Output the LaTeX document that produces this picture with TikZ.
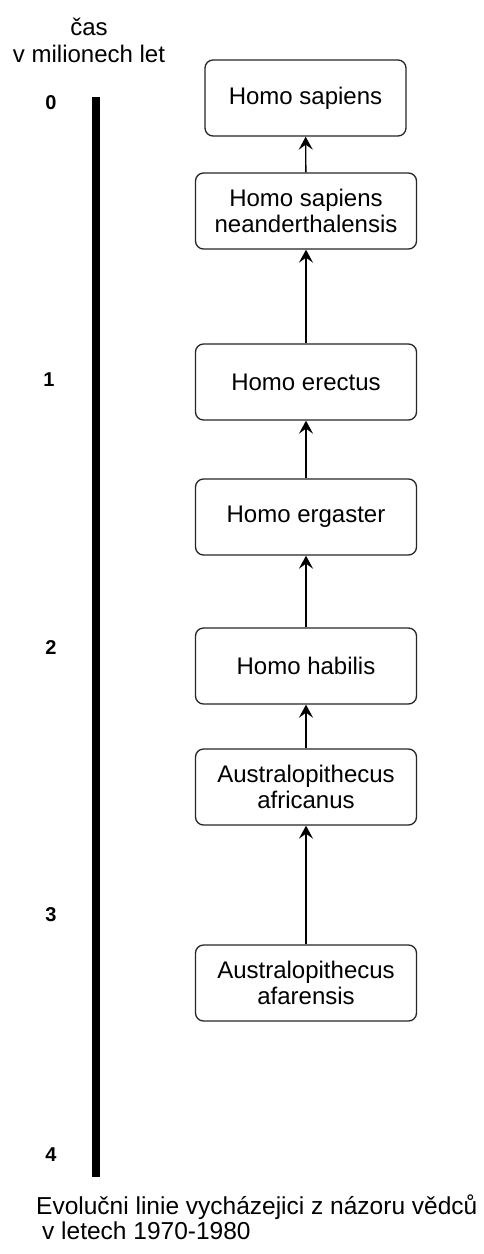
\documentclass[tikz,border=0pt]{standalone}
\usepackage{fontspec}
\setmainfont{Liberation Sans}
\usetikzlibrary{arrows.meta}

\begin{document}
\begin{tikzpicture}[x=1pt,y=-1pt,
  species/.style={draw=black!85, line width=1.3pt, rounded corners=8pt,
    minimum width=221pt, minimum height=76pt, inner sep=0pt,
    align=center, font=\fontsize{24}{26}\selectfont},
  descent/.style={draw=black, line width=1.4pt,
    -{Stealth[length=13pt,width=14pt,inset=5pt]}},
  tick/.style={font=\fontsize{20}{22}\selectfont\bfseries},
  caption/.style={font=\fontsize{24.5}{26}\selectfont, anchor=base west, inner sep=0pt}
]
\useasboundingbox (0,0) rectangle (483,1254);
\fill[white] (0,0) rectangle (483,1254);

% time axis
\node[align=center, font=\fontsize{24}{27}\selectfont] (axtitle) at (89,40) {čas\\v milionech let};
\coordinate (axtop) at (95.5,97);
\coordinate (axbot) at (95.5,1177);
\draw[line width=8pt] (axtop) -- (axbot);
\node[tick] (t0) at (51,103) {0};
\node[tick] (t1) at (49,380) {1};
\node[tick] (t2) at (51,648) {2};
\node[tick] (t3) at (51,915) {3};
\node[tick] (t4) at (51,1155) {4};

% species boxes
\node[species, minimum width=201pt] (sap) at (305.5,98) {Homo sapiens};
\node[species] (nea) at (306,211) {Homo sapiens\\neanderthalensis};
\node[species] (ere) at (306,382) {Homo erectus};
\node[species] (erg) at (306,517) {Homo ergaster};
\node[species] (hab) at (306,666) {Homo habilis};
\node[species] (afr) at (306,787) {Australopithecus\\africanus};
\node[species] (afa) at (306,983) {Australopithecus\\afarensis};

% lineage
\draw[descent] (nea) -- (sap);
\draw[descent] (ere) -- (nea);
\draw[descent] (erg) -- (ere);
\draw[descent] (hab) -- (erg);
\draw[descent] (afr) -- (hab);
\draw[descent] (afa) -- (afr);

% caption
\node[caption] (cap1) at (36,1214) {Evolučni linie vycházejici z názoru vědců};
\node[caption] (cap2) at (42,1239) {v letech 1970-1980};
\end{tikzpicture}
\end{document}
